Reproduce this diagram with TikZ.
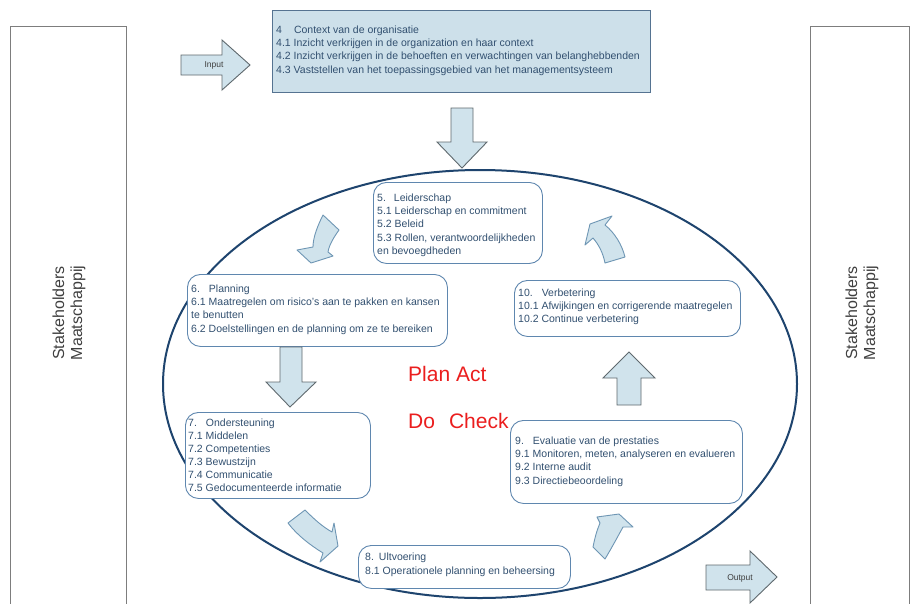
\documentclass[tikz,border=0pt]{standalone}
\usepackage{fontspec}
\setmainfont{Liberation Sans}
\usetikzlibrary{shapes.geometric}
\definecolor{txtcol}{RGB}{50,80,112}
\definecolor{rborder}{RGB}{95,135,175}
\definecolor{topfill}{RGB}{205,224,234}
\definecolor{topborder}{RGB}{85,115,145}
\definecolor{arrfill}{RGB}{208,227,236}
\definecolor{arrborder}{RGB}{95,105,110}
\definecolor{carrborder}{RGB}{110,150,180}
\definecolor{ellcol}{RGB}{30,68,110}
\definecolor{sideborder}{RGB}{125,125,125}
\definecolor{pdcared}{RGB}{235,30,30}
\begin{document}
\begin{tikzpicture}[x=1pt,y=-1pt,
  sidebox/.style={draw=sideborder, line width=0.9pt, fill=white, anchor=north west, inner sep=0pt},
  sidetext/.style={rotate=90, align=center, font=\fontsize{16}{18}\selectfont, text=black!75},
  topboxstyle/.style={draw=topborder, line width=1pt, fill=topfill, anchor=north west, inner sep=0pt},
  rbox/.style={draw=rborder, line width=0.9pt, fill=white, rounded corners=13pt, anchor=north west, inner sep=0pt},
  txt/.style={anchor=north west, align=left, inner sep=0pt, text=txtcol, font=\fontsize{10.5}{13.3}\selectfont},
  blockarrow/.style={draw=arrborder, line width=0.9pt, fill=arrfill, line join=miter},
  curvarrow/.style={draw=carrborder, line width=0.9pt, fill=arrfill, line join=round},
  arrtext/.style={font=\fontsize{8.5}{10}\selectfont, text=black!75, inner sep=0pt},
  pdca/.style={anchor=west, text=pdcared, font=\fontsize{21}{24}\selectfont, inner sep=0pt}
]
\useasboundingbox (0,0) rectangle (910,603);
\fill[white] (0,0) rectangle (910,603);

% side boxes
\node[sidebox, minimum width=116, minimum height=580] (leftbox) at (10,26) {};
\node[sidetext] (lefttxt) at (69,313) {Stakeholders\\Maatschappij};
\node[sidebox, minimum width=99, minimum height=580] (rightbox) at (810,26) {};
\node[sidetext] (righttxt) at (862,313) {Stakeholders\\Maatschappij};

% top box
\node[topboxstyle, minimum width=378, minimum height=82] (ctx) at (272,10) {};
\node[txt] (ctxtxt) at (276,25.5) {4\hspace{12pt}Context van de organisatie\\
4.1 Inzicht verkrijgen in de organization en haar context\\
4.2 Inzicht verkrijgen in de behoeften en verwachtingen van belanghebbenden\\
4.3 Vaststellen van het toepassingsgebied van het managementsysteem};

% input arrow
\draw[blockarrow] (181,55) -- (222,55) -- (222,40) -- (250,65) -- (222,90) -- (222,75) -- (181,75) -- cycle;
\node[arrtext] (inputtxt) at (214,65) {Input};

% down arrow into ellipse
\draw[blockarrow] (451,108) -- (473,108) -- (473,142) -- (487,142) -- (462,168) -- (437,142) -- (451,142) -- cycle;

% ellipse
\node[draw=ellcol, line width=2pt, ellipse, minimum width=634, minimum height=428, inner sep=0pt] (ell) at (480,384) {};

% rounded boxes
\node[rbox, minimum width=169, minimum height=81] (b5) at (373,182) {};
\node[txt] (t5) at (377,193.5) {5.\hspace{8pt}Leiderschap\\
5.1 Leiderschap en commitment\\
5.2 Beleid\\
5.3 Rollen, verantwoordelijkheden\\
en bevoegdheden};

\node[rbox, minimum width=260, minimum height=72] (b6) at (187,274) {};
\node[txt] (t6) at (191,284.5) {6.\hspace{9pt}Planning\\
6.1 Maatregelen om risico's aan te pakken en kansen\\
te benutten\\
6.2 Doelstellingen en de planning om ze te bereiken};

\node[rbox, minimum width=226, minimum height=56] (b10) at (514,280) {};
\node[txt] (t10) at (518,288.5) {10.\hspace{9pt}Verbetering\\
10.1 Afwijkingen en corrigerende maatregelen\\
10.2 Continue verbetering};

\node[rbox, minimum width=185, minimum height=86] (b7) at (185,412) {};
\node[txt, font=\fontsize{10.5}{13}\selectfont] (t7) at (188,418.5) {7.\hspace{9pt}Ondersteuning\\
7.1 Middelen\\
7.2 Competenties\\
7.3 Bewustzijn\\
7.4 Communicatie\\
7.5 Gedocumenteerde informatie};

\node[rbox, minimum width=232, minimum height=83] (b9) at (510,420) {};
\node[txt] (t9) at (515,436.5) {9.\hspace{9pt}Evaluatie van de prestaties\\
9.1 Monitoren, meten, analyseren en evalueren\\
9.2 Interne audit\\
9.3 Directiebeoordeling};

\node[rbox, minimum width=212, minimum height=43] (b8) at (358,545) {};
\node[txt, font=\fontsize{10.5}{14.5}\selectfont] (t8) at (365,552.5) {8.\hspace{5pt}Ultvoering\\
8.1 Operationele planning en beheersing};

% straight arrows inside
\draw[blockarrow] (280,347) -- (302,347) -- (302,382) -- (316,382) -- (290,407) -- (266,382) -- (280,382) -- cycle;
\draw[blockarrow] (617,405) -- (641,405) -- (641,378) -- (655,378) -- (629,352) -- (603,378) -- (617,378) -- cycle;

% curved arrows
\draw[curvarrow] (323,215) .. controls (318,225) and (313,237) .. (313,247) -- (297,250) -- (311,263) -- (333,256) -- (328,252) .. controls (329,245) and (334,237) .. (339,230) -- cycle;
\draw[curvarrow] (593,238) -- (585,245) -- (590,224) -- (612,216) -- (605,225) .. controls (615,233) and (622,245) .. (625,257) -- (605,263) .. controls (603,253) and (599,245) .. (593,238) -- cycle;
\draw[curvarrow] (288,523) -- (305,510) .. controls (315,520) and (323,527) .. (332,532) -- (334,523) -- (338,546) -- (320,562) -- (323,553) .. controls (310,545) and (297,535) .. (288,523) -- cycle;
\draw[curvarrow] (605,559) -- (593,547) .. controls (595,537) and (597,530) .. (600,523) -- (597,517) -- (619,514) -- (633,527) -- (623,527) .. controls (617,538) and (611,549) .. (605,559) -- cycle;

% output arrow
\draw[blockarrow] (706,565) -- (750,565) -- (750,551) -- (777,577) -- (750,603) -- (750,590) -- (706,590) -- cycle;
\node[arrtext] (outputtxt) at (740,578) {Output};

% PDCA text
\node[pdca] (plan) at (408,374) {Plan Act};
\node[pdca] (docheck) at (408,421) {Do\hspace{14pt}Check};
\end{tikzpicture}
\end{document}
